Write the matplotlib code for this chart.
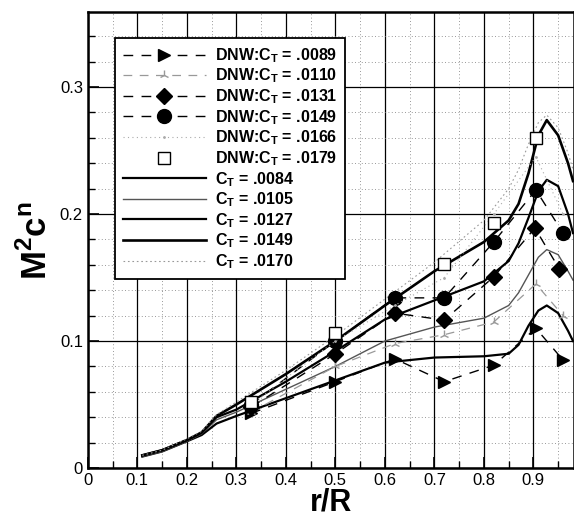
import matplotlib
matplotlib.use("Agg")
import matplotlib.pyplot as plt
import numpy as np
from matplotlib.ticker import MultipleLocator

plt.rcParams['font.family'] = ['Liberation Sans', 'DejaVu Sans']

# ---- Experimental (DNW) data ----
r_exp = [0.33, 0.50, 0.62, 0.72, 0.82, 0.905, 0.96]
dnw_0089 = [0.043, 0.068, 0.086, 0.068, 0.081, 0.110, 0.085]
dnw_0110 = [0.044, 0.080, 0.098, 0.105, 0.115, 0.145, 0.120]
dnw_0131 = [0.048, 0.090, 0.122, 0.1165, 0.1506, 0.189, 0.157]
r_0131 = [0.33, 0.50, 0.62, 0.72, 0.82, 0.903, 0.952]
dnw_0149 = [0.050, 0.100, 0.134, 0.134, 0.178, 0.219, 0.185]
dnw_0166 = [0.050, 0.100, 0.128, 0.150, 0.200, 0.245, 0.200]
r_0179 = [0.33, 0.50, 0.72, 0.82, 0.905]
dnw_0179 = [0.052, 0.106, 0.161, 0.193, 0.260]

# ---- Computed curves ----
r_c = [0.11, 0.15, 0.20, 0.23, 0.26, 0.30, 0.40, 0.50, 0.60, 0.70, 0.80, 0.85,
       0.87, 0.89, 0.91, 0.927, 0.95, 0.97, 0.98]
c_0084 = [0.009, 0.013, 0.021, 0.026, 0.035, 0.041, 0.055, 0.069, 0.083, 0.087, 0.088, 0.090,
          0.097, 0.112, 0.124, 0.128, 0.122, 0.108, 0.100]
c_0105 = [0.009, 0.013, 0.021, 0.027, 0.038, 0.044, 0.062, 0.080, 0.100, 0.111, 0.118, 0.128,
          0.138, 0.152, 0.166, 0.172, 0.168, 0.155, 0.148]
c_0127 = [0.010, 0.014, 0.022, 0.028, 0.040, 0.046, 0.068, 0.092, 0.117, 0.132, 0.147, 0.163,
          0.177, 0.197, 0.218, 0.227, 0.222, 0.200, 0.185]
c_0149 = [0.010, 0.014, 0.022, 0.028, 0.041, 0.050, 0.074, 0.100, 0.128, 0.155, 0.178, 0.195,
          0.208, 0.232, 0.262, 0.274, 0.262, 0.240, 0.226]
c_0170 = [0.010, 0.014, 0.023, 0.029, 0.042, 0.052, 0.077, 0.104, 0.133, 0.162, 0.195, 0.220,
          0.235, 0.255, 0.272, 0.278, 0.268, 0.248, 0.235]

fig = plt.figure(figsize=(5.74, 5.18), dpi=100)
ax = fig.add_axes([0.153, 0.0965, 0.847, 0.88])

# curves
ax.plot(r_c, c_0084, color='black', lw=1.6, label='C$_\\mathregular{T}$ = .0084')
ax.plot(r_c, c_0105, color='#555555', lw=1.0, label='C$_\\mathregular{T}$ = .0105')
ax.plot(r_c, c_0127, color='black', lw=1.6, label='C$_\\mathregular{T}$ = .0127')
ax.plot(r_c, c_0149, color='black', lw=1.9, label='C$_\\mathregular{T}$ = .0149')
ax.plot(r_c, c_0170, color='#999999', lw=0.8, ls=(0, (1.5, 2.5)), label='C$_\\mathregular{T}$ = .0170')

dash = (0, (7, 6))
ax.plot(r_exp, dnw_0089, color='black', lw=1.0, ls=dash, marker='>', ms=9,
        label='DNW:C$_\\mathregular{T}$ = .0089')
ax.plot(r_exp, dnw_0110, color='#999999', lw=0.9, ls=dash, marker='2', ms=7,
        label='DNW:C$_\\mathregular{T}$ = .0110')
ax.plot(r_0131, dnw_0131, color='black', lw=1.0, ls=dash, marker='D', ms=8,
        label='DNW:C$_\\mathregular{T}$ = .0131')
ax.plot(r_exp, dnw_0149, color='black', lw=1.0, ls=dash, marker='o', ms=10,
        label='DNW:C$_\\mathregular{T}$ = .0149')
ax.plot(r_exp, dnw_0166, color='#aaaaaa', lw=0.8, ls=(0, (1, 3)), marker='.', ms=2,
        label='DNW:C$_\\mathregular{T}$ = .0166')
ax.plot(r_0179, dnw_0179, color='black', lw=0, marker='s', ms=9, mfc='white', mew=1.0,
        label='DNW:C$_\\mathregular{T}$ = .0179')

ax.set_xlim(0, 0.982)
ax.set_ylim(0, 0.359)
ax.xaxis.set_minor_locator(MultipleLocator(0.05))
ax.yaxis.set_minor_locator(MultipleLocator(0.02))
ax.set_xticks(np.arange(0, 0.95, 0.1))
ax.set_xticklabels(['0', '0.1', '0.2', '0.3', '0.4', '0.5', '0.6', '0.7', '0.8', '0.9'])
ax.set_yticks([0, 0.1, 0.2, 0.3])
ax.set_yticklabels(['0', '0.1', '0.2', '0.3'])
ax.grid(which='major', color='black', lw=0.9, ls='-')
ax.grid(which='minor', color='#777777', lw=0.6, ls=(0, (1, 3)))
ax.set_axisbelow(True)
ax.tick_params(which='both', direction='in', labelsize=12)
ax.tick_params(which='major', length=8, width=1.2)
ax.tick_params(which='minor', length=5, width=1.0)
for s in ax.spines.values():
    s.set_linewidth(1.8)

ax.set_xlabel('r/R', fontsize=22, fontweight='bold', labelpad=0)
ax.set_ylabel('M$^\\mathregular{2}$c$^\\mathregular{n}$', fontsize=25, fontweight='bold', labelpad=4)

handles, labels = ax.get_legend_handles_labels()
order = [5, 6, 7, 8, 9, 10, 0, 1, 2, 3, 4]
leg = ax.legend([handles[i] for i in order], [labels[i] for i in order],
                loc='upper left', bbox_to_anchor=(0.0556, 0.943), borderaxespad=0,
                handlelength=5.2, handletextpad=0.55, labelspacing=0.12,
                borderpad=0.5, fancybox=False, framealpha=1, edgecolor='black',
                prop={'size': 11.5, 'weight': 'bold'})
leg.get_frame().set_linewidth(1.3)

fig.savefig('out.png', dpi=100)
